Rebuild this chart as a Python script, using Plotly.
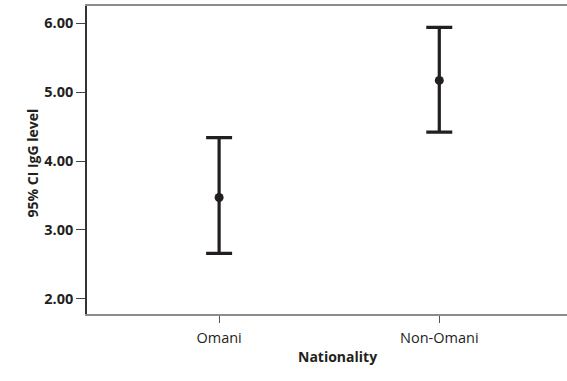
import plotly.graph_objects as go

categories = ["Omani", "Non-Omani"]
means = [3.47, 5.17]
upper = [4.34, 5.94]
lower = [2.66, 4.42]
y_ticks = [2, 3, 4, 5, 6]
y_tick_labels = ["2.00", "3.00", "4.00", "5.00", "6.00"]

err_plus = [u - m for u, m in zip(upper, means)]
err_minus = [m - l for m, l in zip(means, lower)]

dark = "#231f20"
font_family = "Open Sans, Noto Sans, sans-serif"

W, H = 567, 381
L, R, T, B = 87, 0, 6, 67
pw = W - L - R
ph = H - T - B

fig = go.Figure()
fig.add_trace(go.Scatter(
    x=[0, 1], y=means, mode="markers",
    marker=dict(color=dark, size=9),
    error_y=dict(type="data", symmetric=False, array=err_plus, arrayminus=err_minus,
                 color=dark, thickness=3.2, width=13),
    showlegend=False,
))

fig.update_layout(
    width=W, height=H,
    margin=dict(l=L, r=R, t=T, b=B),
    plot_bgcolor="white", paper_bgcolor="white",
    font=dict(family=font_family, color=dark),
    xaxis=dict(
        range=[-0.6, 1.58], tickvals=[0, 1], ticktext=categories,
        showline=True, mirror=True, linecolor="#8c8c8c", linewidth=1.5,
        ticks="outside", ticklen=7, tickcolor="#555555", tickwidth=1,
        ticklabelstandoff=3,
        showgrid=False, zeroline=False,
        tickfont=dict(size=14.5, family=font_family, color=dark),
    ),
    yaxis=dict(
        range=[1.78, 6.25], tickvals=y_ticks, ticktext=y_tick_labels,
        showline=True, linecolor="#333333", linewidth=1.5,
        ticks="outside", ticklen=9, tickcolor="#444444", tickwidth=1,
        showgrid=False, zeroline=False,
        tickfont=dict(size=14.5, family=font_family, color=dark, weight="bold"),
    ),
    annotations=[
        dict(text="<b>Nationality</b>", xref="paper", yref="paper",
             x=(337 - L) / pw, y=(H - B - 368) / ph,
             showarrow=False, font=dict(size=14, family=font_family, color=dark)),
        dict(text="<b>95% CI IgG level</b>", xref="paper", yref="paper",
             x=(20 - L) / pw, y=(H - B - 163) / ph,
             textangle=-90, showarrow=False,
             font=dict(size=14, family=font_family, color=dark)),
    ],
)

fig.write_html("out.html")
